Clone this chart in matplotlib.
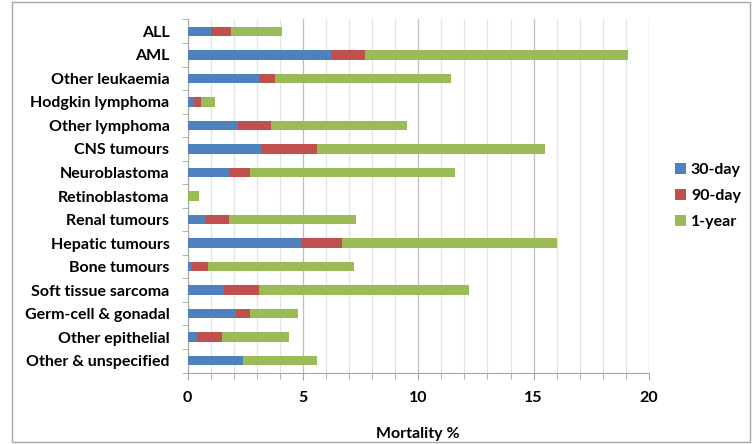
import matplotlib.pyplot as plt
import numpy as np
from matplotlib.patches import Rectangle
from matplotlib.ticker import MultipleLocator, FixedLocator

plt.rcParams['font.family'] = ['Lato', 'DejaVu Sans']
plt.rcParams['font.weight'] = 'bold'

categories = ['ALL', 'AML', 'Other leukaemia', 'Hodgkin lymphoma', 'Other lymphoma',
              'CNS tumours', 'Neuroblastoma', 'Retinoblastoma', 'Renal tumours',
              'Hepatic tumours', 'Bone tumours', 'Soft tissue sarcoma',
              'Germ-cell & gonadal', 'Other epithelial', 'Other & unspecified']

# stacked segment lengths (mortality %)
day30 = [1.0, 6.2, 3.1, 0.3, 2.2, 3.2, 1.8, 0.0, 0.8, 4.9, 0.2, 1.6, 2.1, 0.4, 2.4]
day90 = [0.9, 1.5, 0.7, 0.3, 1.4, 2.4, 0.9, 0.0, 1.0, 1.8, 0.7, 1.5, 0.6, 1.1, 0.0]
year1 = [2.2, 11.4, 7.6, 0.6, 5.9, 9.9, 8.9, 0.5, 5.5, 9.3, 6.3, 9.1, 2.1, 2.9, 3.2]

series = [('30-day', day30, '#4F81BD'),
          ('90-day', day90, '#C0504D'),
          ('1-year', year1, '#9BBB59')]

fig = plt.figure(figsize=(7.53, 4.44), dpi=100)
ax = fig.add_axes([187.5 / 753, 1 - 372.5 / 444, 461.5 / 753, 353 / 444])

y = np.arange(len(categories))
left = np.zeros(len(categories))
for name, vals, color in series:
    vals = np.array(vals)
    ax.barh(y, vals, left=left, height=0.4, color=color, label=name, zorder=3)
    left += vals

ax.set_ylim(len(categories) - 0.5, -0.5)
ax.set_xlim(0, 20)
ax.set_yticks(y)
ax.set_yticklabels(categories, fontsize=11.5, fontweight='bold')
ax.yaxis.set_minor_locator(FixedLocator(np.arange(-0.5, len(categories), 1)))
ax.tick_params(axis='y', which='major', length=0, pad=13)
ax.tick_params(axis='y', which='minor', length=4, color='#A6A6A6', direction='out')

ax.xaxis.set_major_locator(MultipleLocator(5))
ax.xaxis.set_minor_locator(MultipleLocator(1))
ax.tick_params(axis='x', which='major', length=5, color='#A6A6A6', labelsize=11.5, pad=8)
ax.tick_params(axis='x', which='minor', length=4, color='#A6A6A6')
for lab in ax.get_xticklabels():
    lab.set_fontweight('bold')
ax.grid(True, which='major', axis='x', color='#BFBFBF', linewidth=0.9, zorder=0)
ax.grid(True, which='minor', axis='x', color='#E3E3E3', linewidth=0.9, zorder=0)

for side in ['top', 'right']:
    ax.spines[side].set_visible(False)
for side in ['left', 'bottom']:
    ax.spines[side].set_color('#A6A6A6')

ax.set_xlabel('Mortality %', fontsize=11.5, fontweight='bold', labelpad=16)

ax.legend(loc='center left', bbox_to_anchor=(1.025, 0.5), frameon=False,
          handlelength=0.7, handleheight=0.7, handletextpad=0.3,
          labelspacing=0.75, prop={'weight': 'bold', 'size': 11.5})

# outer chart border
fig.patches.append(Rectangle((12 / 753, 2 / 444), 738 / 753, 440 / 444,
                             transform=fig.transFigure, fill=False,
                             edgecolor='#A6A6A6', linewidth=1))

fig.savefig('out.png', dpi=100)
